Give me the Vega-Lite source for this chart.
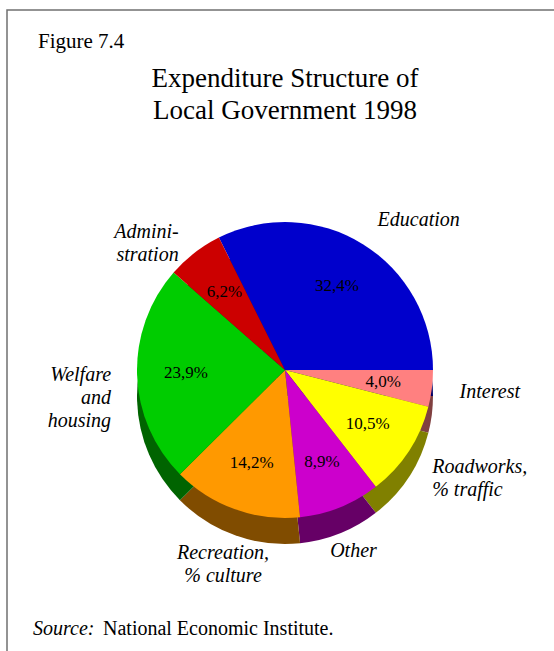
{
  "$schema": "https://vega.github.io/schema/vega-lite/v6.json",
  "width": 556,
  "height": 720,
  "padding": {"left": 7, "top": 10, "right": 0, "bottom": 0},
  "autosize": {"type": "pad"},
  "background": "white",
  "config": {
    "view": {"stroke": "#707070", "strokeWidth": 1.5},
    "font": "Liberation Serif",
    "locale": {"number": {"decimal": ",", "thousands": ".", "grouping": [3], "currency": ["", " €"]}}
  },
  "title": {
    "text": ["Expenditure Structure of", "Local Government 1998"],
    "anchor": "middle",
    "frame": "group",
    "font": "Liberation Serif",
    "fontSize": 27,
    "fontWeight": "normal",
    "lineHeight": 32,
    "offset": -115,
    "color": "black"
  },
  "data": {
    "values": [
      {"seq": 1, "category": "Education", "share": 0.324, "label": "Education"},
      {"seq": 2, "category": "Interest", "share": 0.040, "label": "Interest"},
      {"seq": 3, "category": "Roadworks", "share": 0.105, "label": ["Roadworks,", "% traffic"]},
      {"seq": 4, "category": "Other", "share": 0.089, "label": "Other"},
      {"seq": 5, "category": "Recreation", "share": 0.142, "label": ["Recreation,", "% culture"]},
      {"seq": 6, "category": "Welfare", "share": 0.239, "label": ["Welfare", "and", "housing"]},
      {"seq": 7, "category": "Administration", "share": 0.062, "label": ["Admini-", "stration"]}
    ]
  },
  "layer": [
    {
      "encoding": {
        "theta": {"field": "share", "type": "quantitative", "stack": true, "scale": {"range": [-0.46292, 5.82026]}},
        "order": {"field": "seq", "type": "quantitative"}
      },
      "layer": [
        {
          "mark": {"type": "arc", "outerRadius": 148, "yOffset": 26},
          "encoding": {
            "color": {"field": "category", "type": "nominal", "legend": null,
              "scale": {"domain": ["Education", "Interest", "Roadworks", "Other", "Recreation", "Welfare", "Administration"],
                        "range": ["#000066", "#804040", "#808000", "#660066", "#804C00", "#006400", "#660000"]}}
          }
        },
        {
          "mark": {"type": "arc", "outerRadius": 148},
          "encoding": {
            "color": {"field": "category", "type": "nominal", "legend": null,
              "scale": {"domain": ["Education", "Interest", "Roadworks", "Other", "Recreation", "Welfare", "Administration"],
                        "range": ["#0000CC", "#FF8080", "#FFFF00", "#CC00CC", "#FF9900", "#00CC00", "#CC0000"]}}
          }
        },
        {
          "mark": {"type": "text", "radius": 99, "fontSize": 17, "font": "Liberation Serif", "color": "black"},
          "encoding": {
            "detail": {"field": "category"},
            "text": {"field": "share", "type": "quantitative", "format": ".1%"}
          }
        },
        {
          "mark": {"type": "text", "radius": 176, "align": "left", "baseline": "middle", "fontSize": 20, "fontStyle": "italic", "lineHeight": 23, "font": "Liberation Serif", "color": "black"},
          "encoding": {
            "detail": {"field": "category"},
            "text": {"condition": {"test": "indexof(['Education','Interest','Roadworks'], datum.category) >= 0", "field": "label", "type": "nominal"}, "value": ""}
          }
        },
        {
          "mark": {"type": "text", "radius": 174, "align": "right", "baseline": "middle", "fontSize": 20, "fontStyle": "italic", "lineHeight": 23, "font": "Liberation Serif", "color": "black"},
          "encoding": {
            "detail": {"field": "category"},
            "text": {"condition": {"test": "indexof(['Welfare','Administration'], datum.category) >= 0", "field": "label", "type": "nominal"}, "value": ""}
          }
        },
        {
          "mark": {"type": "text", "radius": 184, "align": "center", "baseline": "top", "fontSize": 20, "fontStyle": "italic", "lineHeight": 23, "font": "Liberation Serif", "color": "black"},
          "encoding": {
            "detail": {"field": "category"},
            "text": {"condition": {"test": "indexof(['Other','Recreation'], datum.category) >= 0", "field": "label", "type": "nominal"}, "value": ""}
          }
        }
      ],
      "resolve": {"scale": {"color": "independent"}}
    },
    {
      "data": {"values": [{"t": "Figure 7.4"}]},
      "mark": {"type": "text", "align": "left", "baseline": "alphabetic", "fontSize": 21, "font": "Liberation Serif", "color": "black"},
      "encoding": {"text": {"field": "t"}, "x": {"value": 31}, "y": {"value": 38}}
    },
    {
      "data": {"values": [{"t": "Source:"}]},
      "mark": {"type": "text", "align": "left", "baseline": "alphabetic", "fontSize": 20, "fontStyle": "italic", "font": "Liberation Serif", "color": "black"},
      "encoding": {"text": {"field": "t"}, "x": {"value": 26}, "y": {"value": 625}}
    },
    {
      "data": {"values": [{"t": "National Economic Institute."}]},
      "mark": {"type": "text", "align": "left", "baseline": "alphabetic", "fontSize": 20, "font": "Liberation Serif", "color": "black"},
      "encoding": {"text": {"field": "t"}, "x": {"value": 96}, "y": {"value": 625}}
    }
  ]
}
